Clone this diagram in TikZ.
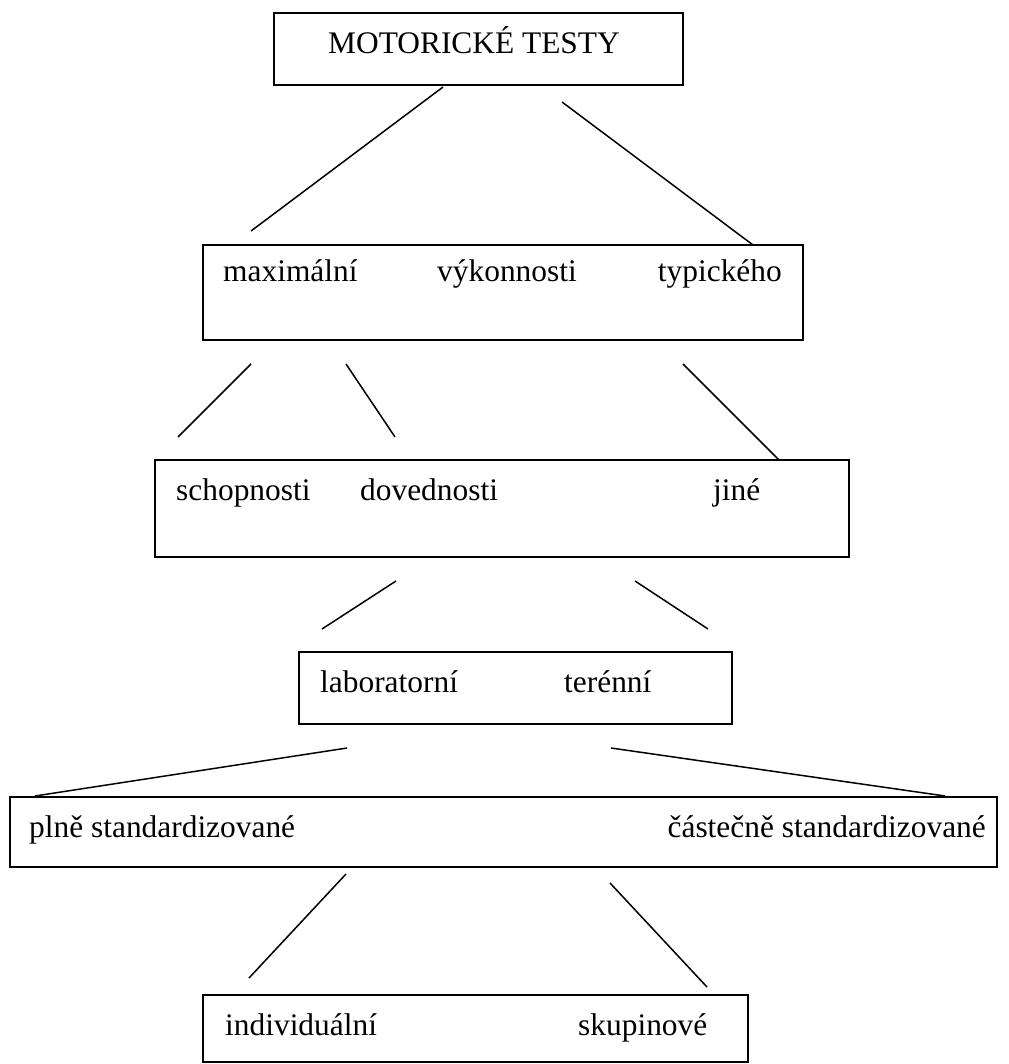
\documentclass[tikz,border=0pt]{standalone}
\usepackage{fontspec}
\setmainfont{Liberation Serif}

\begin{document}
\begin{tikzpicture}[x=1pt, y=-1pt,
  box/.style={draw, line width=1.8pt, inner sep=0pt},
  word/.style={anchor=base west, inner sep=0pt, font=\fontsize{31.4}{36}\selectfont},
  lastword/.style={word, anchor=base east},
  link/.style={line width=1.5pt}]
  \useasboundingbox (0,0) rectangle (1008,1064);

  % boxes
  \node[box, minimum width=409pt, minimum height=72pt] (testy) at (478.5,49) {};
  \node[box, minimum width=600pt, minimum height=95pt] (vykon) at (503,292.5) {};
  \node[box, minimum width=694pt, minimum height=97pt] (obsah) at (502,508.5) {};
  \node[box, minimum width=433pt, minimum height=72pt] (misto) at (515.5,688) {};
  \node[box, minimum width=987pt, minimum height=70pt] (stand) at (503.5,832) {};
  \node[box, minimum width=545pt, minimum height=67pt] (pocet) at (475.5,1028.5) {};

  % texts
  \node[word] (t1) at (328,54) {MOTORICKÉ TESTY};
  \node[word] (v1) at (223,282) {maximální};
  \node[word] (v2) at (437,282) {výkonnosti};
  \node[lastword] (v3) at (782,282) {typického};
  \node[word] (o1) at (176,500) {schopnosti};
  \node[word] (o2) at (360,500) {dovednosti};
  \node[word] (o3) at (713,500) {jiné};
  \node[word] (m1) at (320,692) {laboratorní};
  \node[word] (m2) at (564,692) {terénní};
  \node[word] (s1) at (29,837) {plně standardizované};
  \node[lastword] (s2) at (986,837) {částečně standardizované};
  \node[word] (p1) at (225,1035) {individuální};
  \node[word] (p2) at (578,1035) {skupinové};

  % free ends of the connectors
  \coordinate (a1) at (443,87);  \coordinate (a2) at (251,231);
  \coordinate (b1) at (562,102); \coordinate (b2) at (753,245);
  \coordinate (c1) at (251,364); \coordinate (c2) at (178,437);
  \coordinate (d1) at (346,364); \coordinate (d2) at (395,437);
  \coordinate (e1) at (683,364); \coordinate (e2) at (779,460);
  \coordinate (f1) at (396,581); \coordinate (f2) at (322,629);
  \coordinate (g1) at (635,581); \coordinate (g2) at (708,629);
  \coordinate (h1) at (347,748); \coordinate (h2) at (35,796);
  \coordinate (i1) at (611,748); \coordinate (i2) at (945,796);
  \coordinate (j1) at (346,874); \coordinate (j2) at (249,978);
  \coordinate (k1) at (610,883); \coordinate (k2) at (707,987);

  \foreach \s in {a,b,c,d,e,f,g,h,i,j,k}
    \draw[link] (\s1) -- (\s2);
\end{tikzpicture}
\end{document}
